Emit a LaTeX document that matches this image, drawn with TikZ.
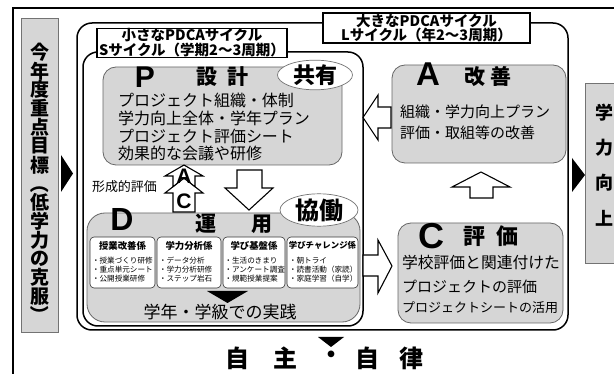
\documentclass[tikz,border=0pt]{standalone}
\usepackage{fontspec}
\setmainfont{Noto Sans CJK JP}
\newfontfamily\latf{Liberation Sans}
\usetikzlibrary{shapes.geometric}
\newcommand\fz[1]{\fontsize{#1}{#1}\selectfont}
\begin{document}
\begin{tikzpicture}[x=1pt,y=-1pt,
  every node/.style={inner sep=0pt,outer sep=0pt},
  gbox/.style={draw=black!60,fill=black!16,line width=0.8pt,rounded corners=13pt,anchor=north west},
  sidebox/.style={draw=black!55,fill=black!16,line width=0.8pt,anchor=north west},
  cyc/.style={draw=black,line width=1.5pt,rounded corners=15pt,anchor=north west},
  labbox/.style={draw=black,fill=white,line width=1.3pt,align=center,font=\bfseries\fontsize{14.5}{13.5}\selectfont},
  wbox/.style={draw=black!80,fill=white,line width=0.6pt,rounded corners=4pt,anchor=north west,minimum height=51pt},
  hollow/.style={draw=black,fill=white,line width=1.1pt,line join=miter},
  oval/.style={ellipse,draw=black!55,fill=white,line width=0.7pt},
  big/.style={font=\latf\bfseries\fz{#1}},
  head/.style={font=\bfseries\fz{#1}},
  txt/.style={anchor=west,font=\fz{#1}},
  items/.style={anchor=north west,align=left,font=\fontsize{7.6}{9}\selectfont}
]
\useasboundingbox (0,0) rectangle (614,374);
\fill[white] (0,0) rectangle (614,374);
% outer frame
\draw[line width=1.2pt] (13,374) -- (13,8) -- (614,8);
% left goal box
\node[sidebox,minimum width=37pt,minimum height=314pt] (goal) at (21,18) {};
\foreach \c/\r [count=\i] in {今/0,年/0,度/0,重/0,点/0,目/0,標/0,（/-90,低/0,学/0,力/0,の/0,克/0,服/0,）/-90}
  \node[head=19,rotate=\r] (g\i) at (40,{52+(\i-1)*18.8}) {\c};
\fill (61,155) -- (73,173.5) -- (61,192) -- cycle;
% L cycle
\node[cyc,minimum width=491pt,minimum height=307pt] (L) at (77,23) {};
\node[labbox,minimum width=207pt,minimum height=30pt] (Llab) at (426.5,28) {大きなPDCAサイクル\\Lサイクル（年2～3周期）};
% S cycle
\node[cyc,minimum width=280pt,minimum height=274pt] (S) at (83,52) {};
\node[labbox,minimum width=190pt,minimum height=28pt] (Slab) at (192,43) {小さなPDCAサイクル\\Sサイクル（学期2～3周期）};
% P
\node[gbox,minimum width=239pt,minimum height=98pt] (P) at (103,67) {};
\node[big=30] (Pl) at (145,77) {P};
\node[head=21] (Ph) at (222.5,77) {設\hspace{10pt}計};
\node[oval,minimum width=75pt,minimum height=26pt,head=22] (kyo) at (315,75) {共有};
\node[txt=16] (p1) at (118,100) {プロジェクト組織・体制};
\node[txt=16] (p2) at (118,118) {学力向上全体・学年プラン};
\node[txt=16] (p3) at (118,136) {プロジェクト評価シート};
\node[txt=16] (p4) at (118,153) {効果的な会議や研修};
% A
\node[gbox,minimum width=174pt,minimum height=98pt] (A) at (392,65) {};
\node[big=33] (Al) at (428,74) {A};
\node[head=21] (Ah) at (488,77) {改\hspace{6pt}善};
\node[txt=15] (a1) at (400,112) {組織・学力向上プラン};
\node[txt=15] (a2) at (400,133) {評価・取組等の改善};
% C
\node[gbox,minimum width=165pt,minimum height=100pt] (C) at (398,223) {};
\node[big=36] (Cl) at (431,236) {C};
\node[head=22] (Ch) at (491,236) {評\hspace{12pt}価};
\node[txt=15.8] (c1) at (402,262) {学校評価と関連付けた};
\node[txt=15] (c2) at (402,287) {プロジェクトの評価};
\node[txt=13] (c3) at (402,308) {プロジェクトシートの活用};
% D
\node[gbox,minimum width=273pt,minimum height=109pt,rounded corners=18pt] (D) at (87,213) {};
\node[big=32] (Dl) at (122,219) {D};
\node[head=21] (Dh) at (234,224) {運\hspace{35pt}用};
\node[oval,minimum width=78pt,minimum height=30pt,head=24] (kyd) at (319,210) {協働};
\node[wbox,minimum width=65pt] (b1) at (90,237) {};
\node[wbox,minimum width=64pt] (b2) at (157,237) {};
\node[wbox,minimum width=62pt] (b3) at (223,237) {};
\node[wbox,minimum width=71pt] (b4) at (287,237) {};
\node[head=9.4] (h1) at (122.5,245.5) {授業改善係};
\node[head=9.4] (h2) at (189,245.5) {学力分析係};
\node[head=9.4] (h3) at (254,245.5) {学び基盤係};
\node[head=8.4] (h4) at (322.5,245.5) {学びチャレンジ係};
\node[items] (i1) at (92,257) {・授業づくり研修\\・重点単元シート\\・公開授業研修};
\node[items] (i2) at (159,257) {・データ分析\\・学力分析研修\\・ステップ岩石};
\node[items] (i3) at (224.5,257) {・生活のきまり\\・アンケート調査\\・規範授業提案};
\node[items] (i4) at (289,257) {・朝トライ\\・読書活動（家読）\\・家庭学習（自学）};
\fill (207,291) -- (248,291) -- (227.5,303) -- cycle;
\node[font=\fz{17}] (jissen) at (220,312) {学年・学級での実践};
% hollow arrows
\draw[hollow] (363,117.5) -- (378,95) -- (378,107) -- (391,107) -- (391,128) -- (378,128) -- (378,140) -- cycle;
\draw[hollow] (481,172) -- (510,187) -- (493,187) -- (493,198) -- (470,198) -- (470,187) -- (452,187) -- cycle;
\draw[hollow] (249,210) -- (273,188) -- (262,188) -- (262,170) -- (237,170) -- (237,188) -- (225,188) -- cycle;
\draw[hollow] (392,266) -- (378,240) -- (378,255) -- (363,255) -- (363,276) -- (378,276) -- (378,293) -- cycle;
% formative evaluation A/C arrow
\node[font=\fz{13}] (keisei) at (124.5,187) {形成的評価};
\draw[hollow] (184,178) -- (203,193) -- (195,193) -- (195,212) -- (173,212) -- (173,193) -- (165,193) -- cycle;
\draw[hollow] (184,165) -- (203,176) -- (195,176) -- (195,186.7) -- (184,178) -- (173,186.7) -- (173,176) -- (165,176) -- cycle;
\node[big=21] (acA) at (184,176.5) {A};
\node[big=21] (acC) at (184,201) {C};
% right goal
\fill (572,158) -- (585,175) -- (572,192) -- cycle;
\node[sidebox,minimum width=40pt,minimum height=180pt] (goal2) at (585,83) {};
\foreach \c [count=\i] in {学,力,向,上}
  \node[head=18] (r\i) at (604,{113+35*(\i-1)}) {\c};
% bottom
\fill (318,337) -- (344,337) -- (331,347) -- cycle;
\node[head=24] (j1) at (237,358) {自};
\node[head=24] (j2) at (285,358) {主};
\node[head=24] (j3) at (331,357) {・};
\node[head=24] (j4) at (367,358) {自};
\node[head=24] (j5) at (411,358) {律};
\end{tikzpicture}
\end{document}
